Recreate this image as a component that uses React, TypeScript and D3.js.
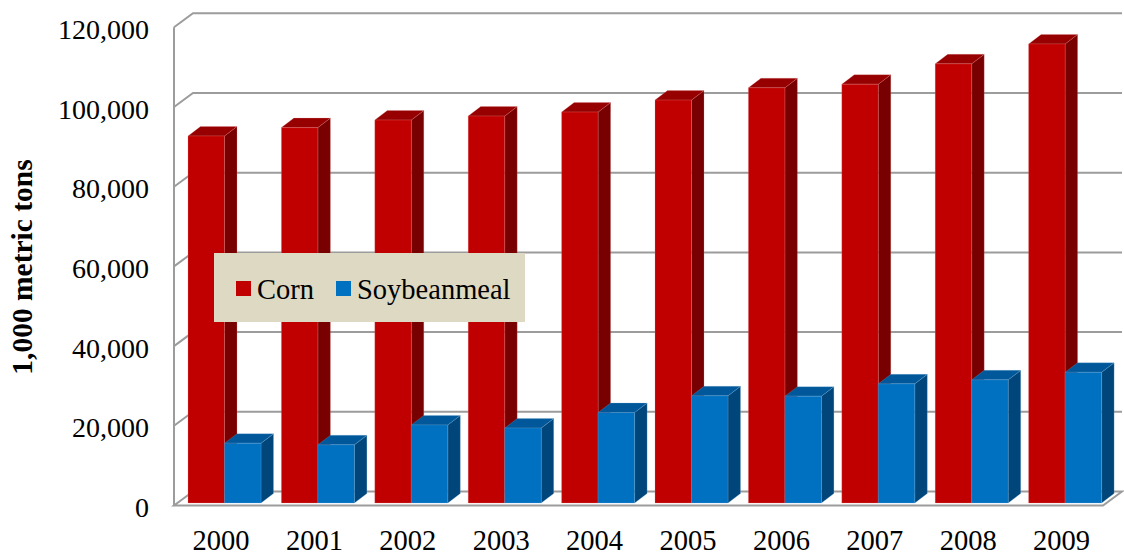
import React from "react";
import * as d3 from "d3";

const years = ["2000", "2001", "2002", "2003", "2004", "2005", "2006", "2007", "2008", "2009"];
const cornValues = [92100, 94200, 96100, 97100, 98100, 101100, 104200, 105100, 110200, 115200];
const soyValues = [15000, 14600, 19600, 18800, 22700, 26900, 26800, 29900, 30900, 32800];
const yTicks = [0, 20000, 40000, 60000, 80000, 100000, 120000];
const seriesNames = ["Corn", "Soybeanmeal"];

const W = 1124;
const H = 557;
const FONT = "'Liberation Serif', 'Times New Roman', serif";

export default function App() {
  const floorLeft = 174;
  const floorRight = 1103;
  const depthX = 19;
  const depthY = -14;
  const barDX = 12.5;
  const barDY = -9.5;
  const barW = 36.5;

  const y = d3.scaleLinear().domain([0, 120000]).range([505.5, 27.3]);
  const x = d3.scaleBand().domain(years).range([170, 1104]).paddingInner(0).paddingOuter(0);
  const yBar = (v: number) => y(v) - 2.5;

  const grid = "#9c9c9c";

  const colors = [
    { front: "#C00000", top: "#960000", side: "#780000", edge: "#e58a8a" },
    { front: "#0070C0", top: "#00589A", side: "#00467A", edge: "#7fb3dd" },
  ];

  const bar = (x0: number, v: number, c: any, key: string) => {
    const yt = yBar(v);
    const yb = yBar(0);
    const x1 = x0 + barW;
    const front = `M${x0},${yb}L${x0},${yt}L${x1},${yt}L${x1},${yb}Z`;
    const top = `M${x0},${yt}L${x0 + barDX},${yt + barDY}L${x1 + barDX},${yt + barDY}L${x1},${yt}Z`;
    const side = `M${x1},${yt}L${x1 + barDX},${yt + barDY}L${x1 + barDX},${yb + barDY}L${x1},${yb}Z`;
    return (
      <g key={key}>
        <path d={side} fill={c.side} stroke={c.edge} strokeWidth={0.4} strokeOpacity={0.6} />
        <path d={top} fill={c.top} stroke={c.edge} strokeWidth={0.4} strokeOpacity={0.6} />
        <path d={front} fill={c.front} stroke={c.edge} strokeWidth={0.4} strokeOpacity={0.6} />
      </g>
    );
  };

  return (
    <svg
      width={W}
      height={H}
      style={{ position: "absolute", left: 0, top: 0, background: "#fff" }}
      xmlns="http://www.w3.org/2000/svg"
    >
      <path
        d={`M${floorLeft},${y(0)}L${floorRight},${y(0)}L${floorRight + depthX},${y(0) + depthY}L${floorLeft + depthX},${y(0) + depthY}Z`}
        fill="#ffffff"
        stroke={grid}
        strokeWidth={2}
      />
      {yTicks
        .filter((t) => t > 0)
        .map((t) => (
          <path
            key={t}
            d={`M${floorLeft},${y(t)}L${floorLeft + depthX},${y(t) + depthY}L${floorRight + depthX},${y(t) + depthY}`}
            fill="none"
            stroke={grid}
            strokeWidth={2}
          />
        ))}
      <line x1={floorLeft} y1={y(120000)} x2={floorLeft} y2={y(0)} stroke={grid} strokeWidth={2} />

      {years.map((yr, i) => {
        const bx = (x(yr) as number) + 18;
        return (
          <g key={yr}>
            {bar(bx, cornValues[i], colors[0], "c" + yr)}
            {bar(bx + barW, soyValues[i], colors[1], "s" + yr)}
          </g>
        );
      })}

      {yTicks.map((t) => (
        <text
          key={t}
          x={149}
          y={y(t) + 2}
          textAnchor="end"
          dominantBaseline="central"
          fontFamily={FONT}
          fontSize={28}
          fill="#000"
        >
          {d3.format(",")(t)}
        </text>
      ))}

      {years.map((yr) => (
        <text
          key={yr}
          x={(x(yr) as number) + 51}
          y={550}
          textAnchor="middle"
          fontFamily={FONT}
          fontSize={28.5}
          fill="#000"
        >
          {yr}
        </text>
      ))}

      <text
        transform={`translate(32,267) rotate(-90)`}
        textAnchor="middle"
        fontFamily={FONT}
        fontWeight="bold"
        fontSize={29.5}
        fill="#000"
      >
        1,000 metric tons
      </text>

      <g>
        <rect x={214} y={253} width={311} height={69} fill="#DDD9C3" />
        <rect x={236} y={281} width={15} height={15} fill={colors[0].front} />
        <text x={257} y={299} fontFamily={FONT} fontSize={28.5} fill="#000">
          {seriesNames[0]}
        </text>
        <rect x={336} y={281} width={15} height={15} fill={colors[1].front} />
        <text x={357} y={299} fontFamily={FONT} fontSize={28.5} fill="#000">
          {seriesNames[1]}
        </text>
      </g>
    </svg>
  );
}
